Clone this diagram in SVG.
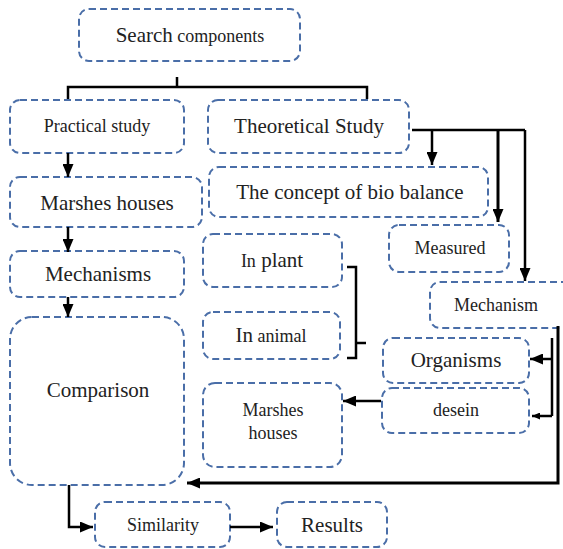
<svg xmlns="http://www.w3.org/2000/svg" width="563" height="549" viewBox="0 0 563 549">
  <style>
    .b { fill: none; stroke: #4a6ea8; stroke-width: 2; stroke-dasharray: 7 4; }
    text { font-family: "Liberation Serif", "Times New Roman", serif; fill: #222; text-anchor: middle; }
    .L { font-size: 21px; }
    .S { font-size: 18px; }
    .c { fill: none; stroke: #000; stroke-width: 2.5; }
    .t { stroke-width: 3; }
  </style>
  <defs>
    <marker id="ah" viewBox="0 0 13 11" refX="13" refY="5.5" markerWidth="13" markerHeight="11" markerUnits="userSpaceOnUse" orient="auto">
      <path d="M0,0 L13,5.5 L0,11 z" fill="#000"/>
    </marker>
    <marker id="ahs" viewBox="0 0 8 7" refX="8" refY="3.5" markerWidth="8" markerHeight="7" markerUnits="userSpaceOnUse" orient="auto">
      <path d="M0,0 L8,3.5 L0,7 z" fill="#000"/>
    </marker>
  </defs>

  <g id="search">
    <rect class="b" x="79" y="9" width="221" height="52" rx="10"/>
    <text x="190" y="42"><tspan class="L">Search</tspan><tspan class="S"> components</tspan></text>
  </g>
  <g id="practical">
    <rect class="b" x="10" y="100" width="174" height="53" rx="10"/>
    <text class="S" x="97" y="132">Practical study</text>
  </g>
  <g id="theoretical">
    <rect class="b" x="208" y="100" width="201" height="53" rx="10"/>
    <text class="L" x="309" y="133">Theoretical Study</text>
  </g>
  <g id="marshes1">
    <rect class="b" x="10" y="177" width="192" height="50" rx="10"/>
    <text class="L" x="107" y="210">Marshes houses</text>
  </g>
  <g id="mechanisms">
    <rect class="b" x="10" y="251" width="174" height="46" rx="10"/>
    <text class="L" x="98" y="281">Mechanisms</text>
  </g>
  <g id="comparison">
    <rect class="b" x="10" y="317" width="174" height="168" rx="22"/>
    <text class="L" x="98" y="397">Comparison</text>
  </g>
  <g id="concept">
    <rect class="b" x="209" y="167" width="279" height="50" rx="10"/>
    <text class="L" x="350" y="199">The concept of bio balance</text>
  </g>
  <g id="inplant">
    <rect class="b" x="203" y="234" width="139" height="53" rx="10"/>
    <text x="272" y="267"><tspan class="S">In</tspan><tspan class="L"> plant</tspan></text>
  </g>
  <g id="inanimal">
    <rect class="b" x="203" y="312" width="137" height="47" rx="10"/>
    <text x="271" y="342"><tspan class="L">In</tspan><tspan class="S"> animal</tspan></text>
  </g>
  <g id="marshes2">
    <rect class="b" x="203" y="383" width="139" height="84" rx="12"/>
    <text class="S" x="273" y="416">Marshes</text>
    <text class="S" x="273" y="439">houses</text>
  </g>
  <g id="measured">
    <rect class="b" x="389" y="225" width="120" height="47" rx="10"/>
    <text class="S" x="450" y="254">Measured</text>
  </g>
  <g id="mechanism">
    <rect class="b" x="430" y="282" width="150" height="46" rx="10"/>
    <text class="S" x="496" y="311">Mechanism</text>
  </g>
  <g id="organisms">
    <rect class="b" x="383" y="338" width="146" height="45" rx="10"/>
    <text class="L" x="456" y="367">Organisms</text>
  </g>
  <g id="desein">
    <rect class="b" x="382" y="388" width="147" height="45" rx="10"/>
    <text class="S" x="456" y="416">desein</text>
  </g>
  <g id="similarity">
    <rect class="b" x="95" y="502" width="135" height="45" rx="10"/>
    <text class="S" x="163" y="531">Similarity</text>
  </g>
  <g id="results">
    <rect class="b" x="277" y="502" width="110" height="45" rx="10"/>
    <text class="L" x="332" y="532">Results</text>
  </g>

  <g id="connectors">
    <path class="c" d="M177,77 V87 M68,99 V87 H367 V99"/>
    <path class="c" d="M412,130 H525"/>
    <path class="c" d="M432,130 V165" marker-end="url(#ah)"/>
    <path class="c t" d="M498,130 V222" marker-end="url(#ah)"/>
    <path class="c" d="M525,130 V281" marker-end="url(#ah)"/>
    <path class="c" d="M68,153 V177" marker-end="url(#ah)"/>
    <path class="c" d="M68,227 V252" marker-end="url(#ah)"/>
    <path class="c" d="M68,297 V317" marker-end="url(#ah)"/>
    <path class="c" d="M347,267 H356 V358 H347 M356,343 H366"/>
    <path class="c" d="M381,401 H343" marker-end="url(#ah)"/>
    <path class="c" d="M552,338 V416"/>
    <path class="c" d="M552,359 H530" marker-end="url(#ah)"/>
    <path class="c" d="M552,416 H532" marker-end="url(#ahs)"/>
    <path class="c t" d="M558,326 V483 H187" marker-end="url(#ah)"/>
    <path class="c" d="M69,485 V527 H93" marker-end="url(#ah)"/>
    <path class="c" d="M230,527 H273" marker-end="url(#ah)"/>
  </g>
</svg>
